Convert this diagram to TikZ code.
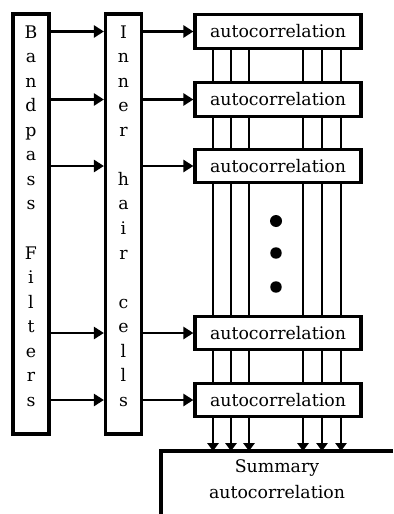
\documentclass[tikz,border=0pt]{standalone}
\usepackage{fontspec}
\setmainfont{DejaVu Serif}
\usetikzlibrary{arrows.meta}
\begin{document}
\begin{tikzpicture}[x=0.75pt,y=-0.75pt,
  box/.style={draw,line width=2.4pt,inner sep=0pt},
  tallbox/.style={box,minimum width=27pt,minimum height=315pt},
  acbox/.style={box,minimum width=124.5pt,minimum height=25pt,
    font=\fontsize{13}{15}\selectfont},
  vtext/.style={align=center,inner sep=0pt,font=\fontsize{13}{18.4}\selectfont},
  feed/.style={line width=1.9pt,-{Triangle[length=7.5pt,width=9pt]}},
  lag/.style={line width=1.9pt},
  lagthin/.style={line width=1.4pt},
  sumarrow/.style={-{Triangle[length=6pt,width=8.5pt]}},
]
\useasboundingbox (0,0) rectangle (393,514);

% filter bank and hair-cell columns
\node[tallbox] (bp)  at (31,224) {};
\node[tallbox] (ihc) at (123.5,224) {};
\node[vtext] (bptxt) at (31,216)
  {B\\a\\n\\d\\p\\a\\s\\s\\~\\F\\i\\l\\t\\e\\r\\s};
\node[vtext] (ihctxt) at (123.5,216)
  {I\\n\\n\\e\\r\\~\\h\\a\\i\\r\\~\\c\\e\\l\\l\\s};

% autocorrelation channels
\node[acbox] (a1) at (278,31.5) {autocorrelation};
\node[acbox] (a2) at (278,99.5) {autocorrelation};
\node[acbox] (a3) at (278,166)  {autocorrelation};
\node[acbox] (a4) at (278,333)  {autocorrelation};
\node[acbox] (a5) at (278,400)  {autocorrelation};

% feed-forward connections
\foreach \n in {a1,a2,a3,a4,a5}{
  \draw[feed] (bp.east |- \n) -- (ihc.west |- \n);
  \draw[feed] (ihc.east |- \n) -- (\n.west);
}

% lag columns
\coordinate (c1) at (213,0);
\coordinate (c2) at (231,0);
\coordinate (c3) at (249,0);
\coordinate (c4) at (303,0);
\coordinate (c5) at (322,0);
\coordinate (c6) at (341,0);

% summary box (open to the right and below)
\coordinate (sumtl) at (161,451);
\draw[line width=2.4pt] (393,451) -- (sumtl) -- (161,516);
\node[align=center,inner sep=0pt,font=\fontsize{13}{19.5}\selectfont]
  (sumtxt) at (277,479) {Summary\\autocorrelation};

\foreach \c/\s in {c1/lag,c2/lag,c3/lag,c4/lag,c5/lagthin,c6/lagthin}{
  \draw[\s] (a1.south -| \c) -- (a2.north -| \c);
  \draw[\s] (a2.south -| \c) -- (a3.north -| \c);
  \draw[\s] (a3.south -| \c) -- (a4.north -| \c);
  \draw[\s] (a4.south -| \c) -- (a5.north -| \c);
  \draw[\s,sumarrow] (a5.south -| \c) -- (sumtl -| \c);
}

% ellipsis between channels
\fill (276,221) circle (4.5pt);
\fill (276,253) circle (4.3pt);
\fill (276,287) circle (4.3pt);
\end{tikzpicture}
\end{document}
